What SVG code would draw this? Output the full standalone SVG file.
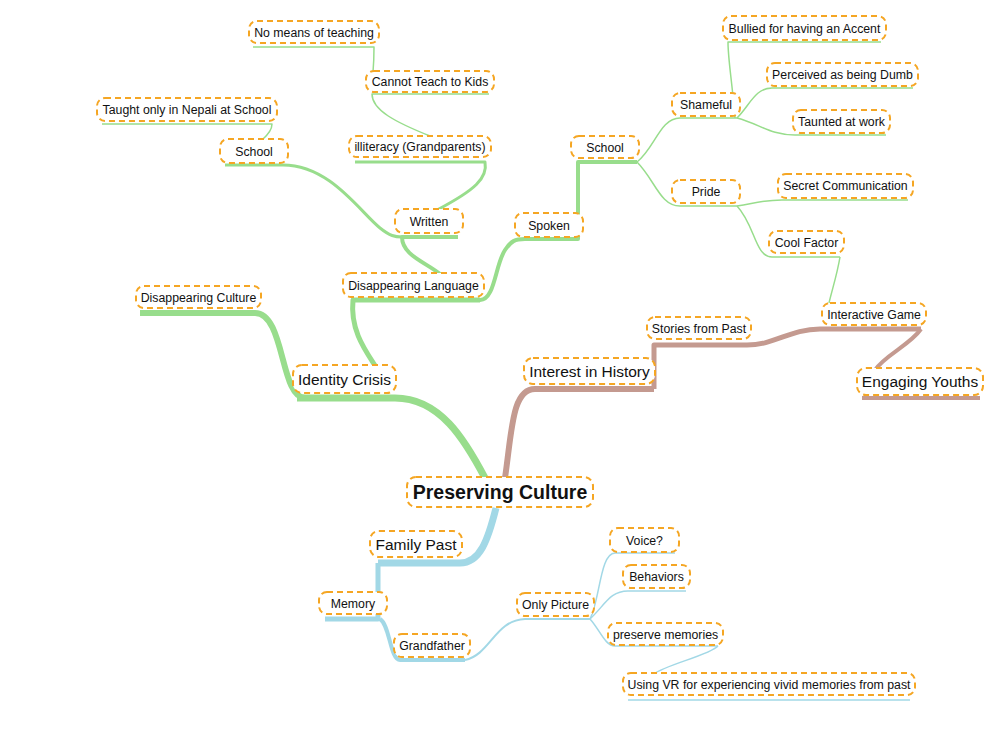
<svg xmlns="http://www.w3.org/2000/svg" width="1000" height="729" viewBox="0 0 1000 729">
<style>
.g{stroke:#98dd8c;fill:none;stroke-linecap:butt;stroke-linejoin:round}
.b{stroke:#c49a90;fill:none;stroke-linejoin:round}
.u{stroke:#a2d8e6;fill:none;stroke-linejoin:round}
.box{fill:#fff;stroke:#f5a623;stroke-width:2;stroke-dasharray:6 4}
text{font-family:"Liberation Sans",Arial,sans-serif;fill:#111;text-anchor:middle}
.s{font-size:12.3px}
.m{font-size:15.5px}
.r{font-size:19.5px;font-weight:bold}
</style>
<rect width="1000" height="729" fill="#fff"/>
<g id="connectors">
<!-- green branch -->
<path class="g" stroke-width="7" d="M297 398 L395 398 C440 398 465 440 485 478"/>
<path class="g" stroke-width="6" d="M140 313 L255 313 C285 313 280 398 305 398"/>
<path class="g" stroke-width="5" d="M480 300 L353 300 C350 330 365 350 376 367"/>
<path class="g" stroke-width="4" d="M480 300 C495 300 495 265 505 250 C511 241 515 239 525 239 L578 239 L578 162 L637 162"/>
<path class="g" stroke-width="4" d="M440 274 C425 262 402 255 402 237 L458 237"/>
<path class="g" stroke-width="3" d="M225 165 L283 165 C330 165 360 212 380 228 C390 236 395 237 402 237"/>
<path class="g" stroke-width="3" d="M437 210 C475 190 488 178 485 162 L355 162"/>
<path class="g" stroke-width="1.5" d="M430 136 C395 122 372 110 372 94 L489 94"/>
<path class="g" stroke-width="1.5" d="M373 72 C374 60 374 50 374 47 L253 47"/>
<path class="g" stroke-width="1.5" d="M262 140 C270 133 272 128 272 124 L102 124"/>
<path class="g" stroke-width="1.5" d="M637 162 C655 148 660 118 680 118 L737 118"/>
<path class="g" stroke-width="1.5" d="M637 162 C655 180 660 206 680 206 L737 206"/>
<path class="g" stroke-width="1.5" d="M735 118 C732 80 728 60 728 42 L881 42"/>
<path class="g" stroke-width="1.5" d="M737 118 C750 105 755 88 772 88 L913 88"/>
<path class="g" stroke-width="1.5" d="M737 118 C760 124 770 135 795 135 L886 135"/>
<path class="g" stroke-width="1.5" d="M737 206 C760 202 765 200 782 200 L908 200"/>
<path class="g" stroke-width="1.5" d="M737 206 C755 225 755 257 772 257 L840 257"/>
<path class="g" stroke-width="1.5" d="M840 257 C837 275 832 290 829 303"/>
<!-- brown branch -->
<path class="b" stroke-width="6" d="M505 478 C512 430 512 389 535 389 L654 389"/>
<path class="b" stroke-width="5" d="M654 389 L654 345 L747 345"/>
<path class="b" stroke-width="5" d="M747 345 C775 345 790 329 820 329 L921 329"/>
<path class="b" stroke-width="4" d="M921 329 C910 345 885 355 875 370"/>
<path class="b" stroke-width="4" d="M862 398 L980 398"/>
<!-- blue branch -->
<path class="u" stroke-width="7" d="M496 508 C488 540 480 563 460 563 L378 563"/>
<path class="u" stroke-width="5" d="M378 563 L378 619 L325 619"/>
<path class="u" stroke-width="4" d="M380 619 C390 625 390 660 400 660 L465 660"/>
<path class="u" stroke-width="2" d="M465 660 C490 655 495 620 525 619 L590 619"/>
<path class="u" stroke-width="1.5" d="M590 619 C600 600 600 553 615 553 L675 553"/>
<path class="u" stroke-width="1.5" d="M590 619 C605 605 610 591 628 591 L686 591"/>
<path class="u" stroke-width="1.5" d="M590 619 C600 630 605 646 615 646 L718 646"/>
<path class="u" stroke-width="1.5" d="M718 646 C710 655 665 665 654 674"/>
<path class="u" stroke-width="1.5" d="M628 700 L910 700"/>
</g>
<g id="n-root"><rect class="box" x="407" y="477" width="186" height="30" rx="9"/><text class="r" x="500" y="499">Preserving Culture</text></g>
<g id="n-identity"><rect class="box" x="293" y="365" width="103" height="28" rx="9"/><text class="m" x="344.5" y="384.5">Identity Crisis</text></g>
<g id="n-disculture"><rect class="box" x="136" y="286" width="125" height="22" rx="8"/><text class="s" x="198.5" y="301.5">Disappearing Culture</text></g>
<g id="n-dislang"><rect class="box" x="343" y="273" width="141" height="24" rx="8"/><text class="s" x="413.5" y="289.5">Disappearing Language</text></g>
<g id="n-written"><rect class="box" x="395" y="209" width="68" height="24" rx="8"/><text class="s" x="429" y="225.5">Written</text></g>
<g id="n-school-l"><rect class="box" x="220" y="139" width="68" height="24" rx="8"/><text class="s" x="254" y="155.5">School</text></g>
<g id="n-taught"><rect class="box" x="97" y="98" width="180" height="23" rx="8"/><text class="s" x="187" y="114">Taught only in Nepali at School</text></g>
<g id="n-illiteracy"><rect class="box" x="349" y="136" width="142" height="21" rx="8"/><text class="s" x="420" y="151">illiteracy (Grandparents)</text></g>
<g id="n-cannot"><rect class="box" x="366" y="71" width="128" height="21" rx="8"/><text class="s" x="430" y="86">Cannot Teach to Kids</text></g>
<g id="n-nomeans"><rect class="box" x="249" y="21" width="130" height="22" rx="8"/><text class="s" x="314" y="36.5">No means of teaching</text></g>
<g id="n-spoken"><rect class="box" x="515" y="213" width="68" height="24" rx="8"/><text class="s" x="549" y="229.5">Spoken</text></g>
<g id="n-school-r"><rect class="box" x="571" y="136" width="68" height="22" rx="8"/><text class="s" x="605" y="151.5">School</text></g>
<g id="n-shameful"><rect class="box" x="672" y="93" width="68" height="23" rx="8"/><text class="s" x="706" y="109">Shameful</text></g>
<g id="n-pride"><rect class="box" x="672" y="180" width="68" height="23" rx="8"/><text class="s" x="706" y="196">Pride</text></g>
<g id="n-bullied"><rect class="box" x="723" y="16" width="163" height="24" rx="8"/><text class="s" x="804.5" y="32.5">Bullied for having an Accent</text></g>
<g id="n-perceived"><rect class="box" x="767" y="63" width="151" height="23" rx="8"/><text class="s" x="842.5" y="79">Perceived as being Dumb</text></g>
<g id="n-taunted"><rect class="box" x="793" y="110" width="97" height="23" rx="8"/><text class="s" x="841.5" y="126">Taunted at work</text></g>
<g id="n-secret"><rect class="box" x="778" y="174" width="135" height="24" rx="8"/><text class="s" x="845.5" y="190">Secret Communication</text></g>
<g id="n-cool"><rect class="box" x="769" y="231" width="75" height="22" rx="8"/><text class="s" x="806.5" y="246.5">Cool Factor</text></g>
<g id="n-interactive"><rect class="box" x="822" y="303" width="104" height="22" rx="8"/><text class="s" x="874" y="318.5">Interactive Game</text></g>
<g id="n-stories"><rect class="box" x="647" y="317" width="104" height="22" rx="8"/><text class="s" x="699" y="332.5">Stories from Past</text></g>
<g id="n-interest"><rect class="box" x="524" y="358" width="131" height="26" rx="9"/><text class="m" x="589.5" y="376.5">Interest in History</text></g>
<g id="n-engaging"><rect class="box" x="857" y="368" width="126" height="27" rx="9"/><text class="m" x="920" y="387">Engaging Youths</text></g>
<g id="n-family"><rect class="box" x="370" y="531" width="92" height="26" rx="9"/><text class="m" x="416" y="549.5">Family Past</text></g>
<g id="n-memory"><rect class="box" x="319" y="592" width="68" height="22" rx="8"/><text class="s" x="353" y="607.5">Memory</text></g>
<g id="n-grandfather"><rect class="box" x="394" y="634" width="76" height="23" rx="8"/><text class="s" x="432" y="650">Grandfather</text></g>
<g id="n-onlypic"><rect class="box" x="517" y="593" width="77" height="23" rx="8"/><text class="s" x="555.5" y="609">Only Picture</text></g>
<g id="n-voice"><rect class="box" x="610" y="528" width="69" height="24" rx="8"/><text class="s" x="644.5" y="544.5">Voice?</text></g>
<g id="n-behaviors"><rect class="box" x="623" y="565" width="67" height="23" rx="8"/><text class="s" x="656.5" y="581">Behaviors</text></g>
<g id="n-preserve"><rect class="box" x="608" y="623" width="115" height="22" rx="8"/><text class="s" x="665.5" y="638.5">preserve memories</text></g>
<g id="n-vr"><rect class="box" x="623" y="673" width="292" height="22" rx="8"/><text class="s" x="769" y="688.5">Using VR for experiencing vivid memories from past</text></g>
</svg>
